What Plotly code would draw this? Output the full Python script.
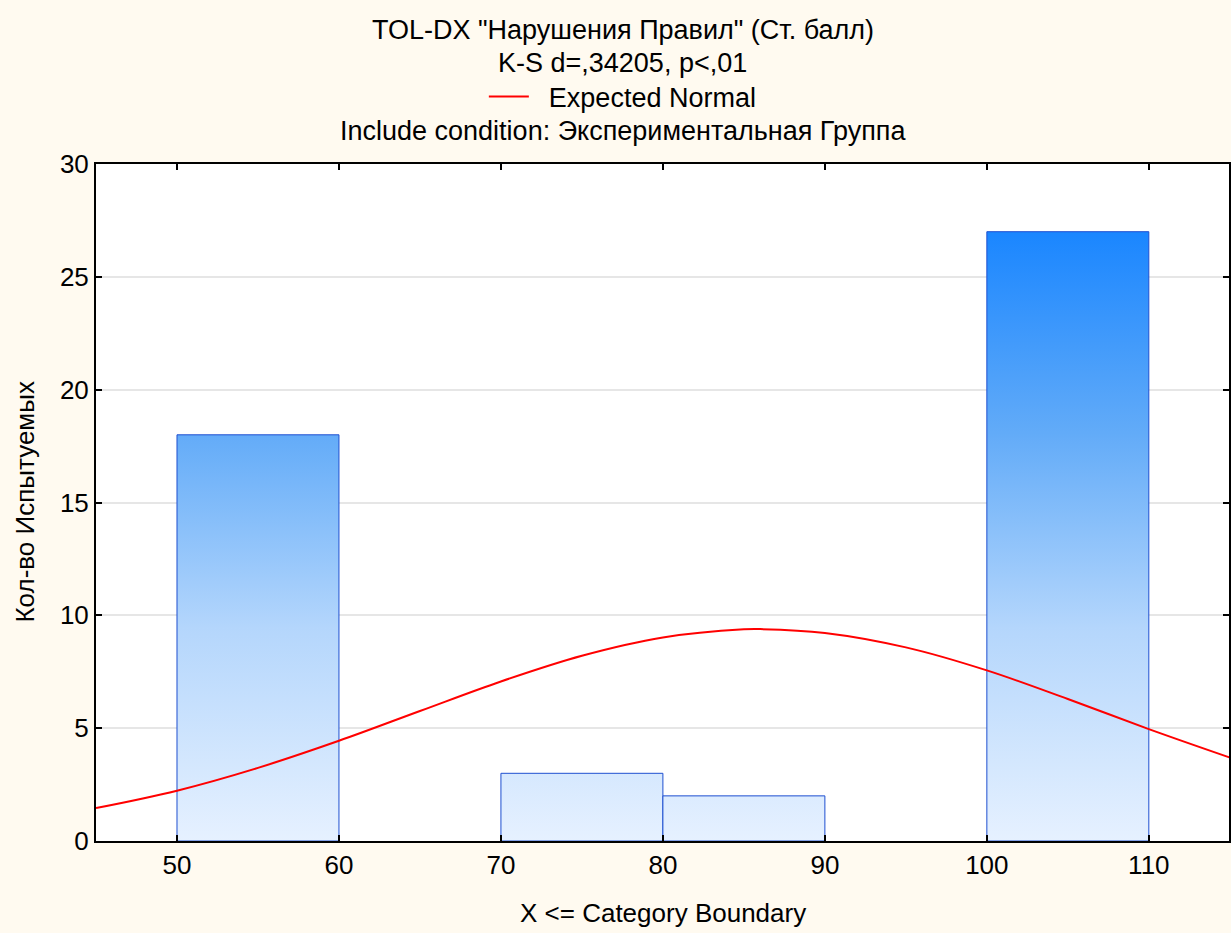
import plotly.graph_objects as go

# Histogram data (bin edges and counts)
bin_left = [50, 70, 80, 100]
bin_right = [60, 80, 90, 110]
counts = [18, 3, 2, 27]

# Expected normal curve
curve_x = [45, 50, 55, 60, 65, 70, 75, 80, 85, 86, 90, 95, 100, 105, 110, 115]
curve_y = [1.46, 2.23, 3.24, 4.44, 5.76, 7.07, 8.21, 9.02, 9.38, 9.39, 9.22, 8.58, 7.56, 6.29, 4.96, 3.70]

x_ticks = [50, 60, 70, 80, 90, 100, 110]
y_ticks = [0, 5, 10, 15, 20, 25, 30]

title_lines = ['TOL-DX "Нарушения Правил" (Ст. балл)', 'K-S d=,34205, p<,01']
subtitle = 'Include condition: Экспериментальная Группа'
x_title = 'X <= Category Boundary'
y_title = 'Кол-во Испытуемых'

FONT = "Liberation Sans, Arial, sans-serif"
BG = "#FFFAF0"
FS = 26
FT = 27
TX = 0.465

fig = go.Figure()

for l, r, c in zip(bin_left, bin_right, counts):
    fig.add_trace(go.Scatter(
        x=[l, l, r, r, l], y=[0, c, c, 0, 0],
        mode="lines", fill="toself",
        fillgradient=dict(type="vertical", start=0, stop=27,
                          colorscale=[[0, "#E6F1FF"], [0.35, "#B4D6FC"], [0.67, "#62ABF8"], [1, "#1A86FF"]]),
        line=dict(color="#1E4FD0", width=1),
        showlegend=False, hoverinfo="skip"))

fig.add_trace(go.Scatter(
    x=curve_x, y=curve_y, mode="lines", line=dict(color="#FF0000", width=2, shape="spline"),
    name="\u00a0\u00a0Expected Normal", showlegend=True))

fig.update_layout(
    width=1231, height=933,
    paper_bgcolor=BG, plot_bgcolor="#FFFFFF",
    margin=dict(l=96, r=0, t=164, b=92),
    font=dict(family=FONT, size=FS, color="#000000"),
    showlegend=True,
    legend=dict(x=TX, xanchor="center", y=1.099, yanchor="middle", orientation="h",
                bgcolor="rgba(0,0,0,0)", font=dict(size=FT), itemwidth=40),
    xaxis=dict(range=[45, 114.95], tickvals=x_ticks, showgrid=False, zeroline=False,
               showline=True, linecolor="#000000", linewidth=2, mirror="ticks",
               ticks="inside", ticklen=6, tickwidth=2, tickcolor="#000000",
               tickfont=dict(size=FS)),
    yaxis=dict(range=[0, 30], tickvals=y_ticks, showgrid=True, gridcolor="#E6E6E6", gridwidth=2,
               zeroline=False, showline=True, linecolor="#000000", linewidth=2, mirror="ticks",
               ticks="inside", ticklen=6, tickwidth=2, tickcolor="#000000",
               tickfont=dict(size=FS)),
)

annos = [
    dict(text=title_lines[0], x=TX, y=1.198, size=FT),
    dict(text=title_lines[1], x=TX, y=1.149, size=FT),
    dict(text=subtitle, x=TX, y=1.0487, size=FT),
    dict(text=x_title, x=0.5, y=-0.1064, size=FS),
    dict(text=y_title, x=-0.0635, y=0.5, textangle=-90, size=FS),
]
for a in annos:
    sz = a.pop("size")
    fig.add_annotation(xref="paper", yref="paper", xanchor="center", yanchor="middle",
                       showarrow=False, font=dict(size=sz), **a)

fig.write_html("out.html")
